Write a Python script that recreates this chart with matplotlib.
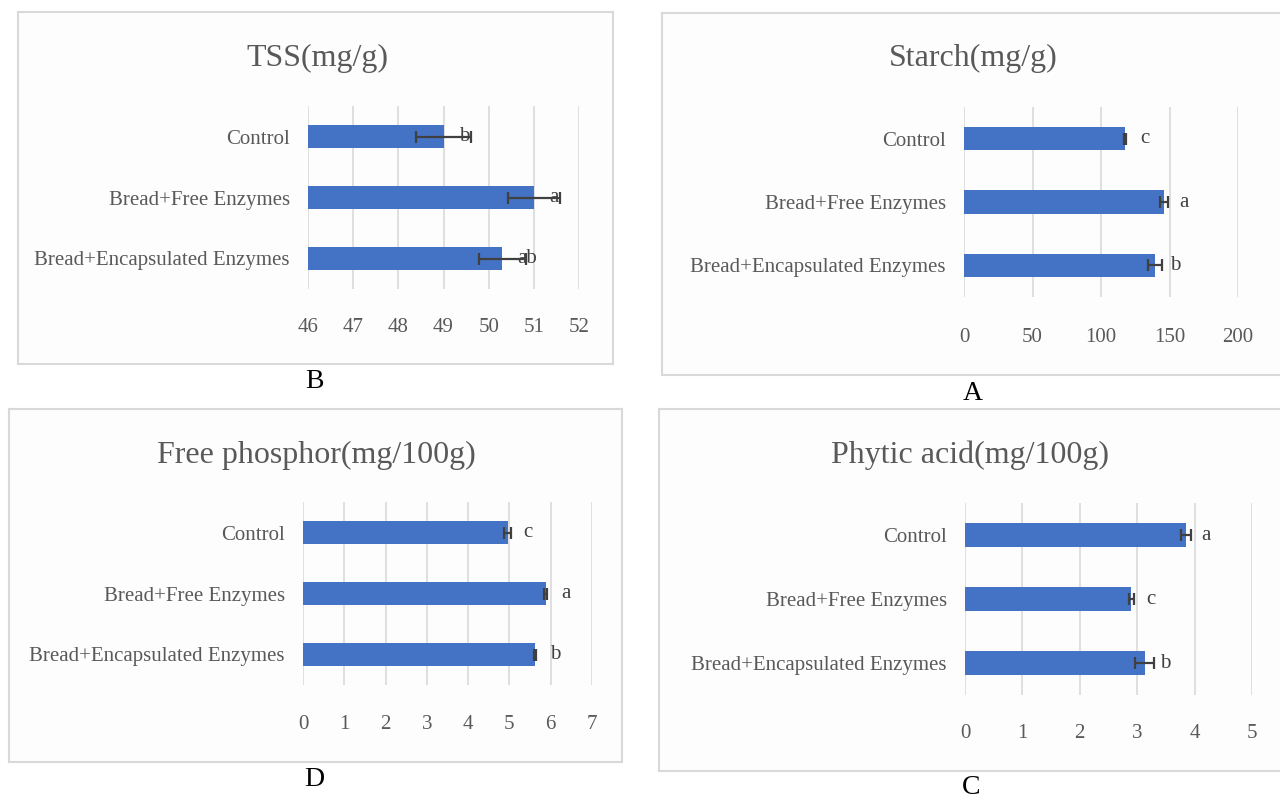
import matplotlib
matplotlib.use('Agg')
import matplotlib.pyplot as plt

plt.rcParams['font.family'] = ['Liberation Serif', 'DejaVu Serif']

W, H = 1280, 799

categories = ['Control', 'Bread+Free Enzymes', 'Bread+Encapsulated Enzymes']

# TSS (B)
tss = [49.0, 51.0, 50.3]
tss_err = [0.6, 0.58, 0.52]
tss_letters = ['b', 'a', 'ab']
tss_ticks = [46, 47, 48, 49, 50, 51, 52]

# Starch (A)
starch = [117.5, 146, 139.5]
starch_err = [1, 3, 5]
starch_letters = ['c', 'a', 'b']
starch_ticks = [0, 50, 100, 150, 200]

# Free phosphor (D)
phos = [4.96, 5.88, 5.62]
phos_err = [0.08, 0.04, 0.03]
phos_letters = ['c', 'a', 'b']
phos_ticks = [0, 1, 2, 3, 4, 5, 6, 7]

# Phytic acid (C)
phytic = [3.85, 2.9, 3.13]
phytic_err = [0.08, 0.05, 0.17]
phytic_letters = ['a', 'c', 'b']
phytic_ticks = [0, 1, 2, 3, 4, 5]

BAR = '#4472C4'
GREY = '#595959'

fig = plt.figure(figsize=(W / 100, H / 100), dpi=100)
fig.patch.set_facecolor('white')


def fx(x):
    return x / W


def fy(y):
    return 1 - y / H


def panel(values, errs, letters, ticks, title, letter, box, axbox, title_y, title_x, letter_pos, tick_y):
    # outer frame of the chart, kept behind the axes
    bx0, by0, bx1, by1 = box
    frame = fig.add_axes([fx(bx0), fy(by1), fx(bx1 - bx0), (by1 - by0) / H], zorder=0)
    frame.set_facecolor('#fdfdfd')
    frame.set_xticks([])
    frame.set_yticks([])
    for sp in frame.spines.values():
        sp.set_color('#d9d9d9')
        sp.set_linewidth(1.5)

    l, t, r, b = axbox
    ax = fig.add_axes([fx(l), fy(b), fx(r - l), (b - t) / H], zorder=1)
    ax.set_facecolor('none')
    y = list(range(len(categories)))
    ax.barh(y, [v - ticks[0] for v in values], height=0.37, color=BAR, left=ticks[0], zorder=3)
    ax.errorbar(values, y, xerr=errs, fmt='none', ecolor='#404040',
                elinewidth=1.6, capsize=4, capthick=1.6, zorder=4)
    for yi, v, s in zip(y, values, letters):
        ax.annotate(s, (v, yi), xytext=(11, 0), textcoords='offset points',
                    ha='left', va='center', fontsize=15, color='#404040', zorder=5)
    ax.set_xlim(ticks[0], ticks[-1])
    ax.set_ylim(2.5, -0.5)
    ax.set_xticks(ticks)
    ax.set_yticks(y)
    ax.set_yticklabels(categories)
    ax.grid(axis='x', color='#d9d9d9', linewidth=1.2, zorder=0)
    ax.set_axisbelow(True)
    for sp in ax.spines.values():
        sp.set_visible(False)
    ax.tick_params(axis='both', length=0, colors=GREY, labelsize=15)
    ax.tick_params(axis='y', labelsize=15, pad=13)
    ax.tick_params(axis='x', pad=(tick_y - b - 10) * 0.72)
    fig.text(fx(title_x), fy(title_y), title, fontsize=23, color=GREY,
             ha='center', va='center', zorder=5)
    fig.text(fx(letter_pos[0]), fy(letter_pos[1]), letter, fontsize=20,
             color='black', ha='center', va='center')
    return ax


# B  TSS
panel(tss, tss_err, tss_letters, tss_ticks, 'TSS(mg/g)', 'B',
      (18, 12, 613, 364), (308, 106, 579, 289), 58, 317, (314, 381), 328)

# A  Starch
panel(starch, starch_err, starch_letters, starch_ticks, 'Starch(mg/g)', 'A',
      (662, 13, 1283, 375), (964, 107, 1238, 297), 58, 973, (973, 393), 338)

# D  Free phosphor
panel(phos, phos_err, phos_letters, phos_ticks, 'Free phosphor(mg/100g)', 'D',
      (9, 409, 622, 762), (303, 502, 592, 685), 455, 316, (314, 779), 725)

# C  Phytic acid
panel(phytic, phytic_err, phytic_letters, phytic_ticks, 'Phytic acid(mg/100g)', 'C',
      (659, 409, 1283, 771), (965, 503, 1252, 695), 455, 970, (971, 787), 734)

fig.savefig('out.png', dpi=100)
